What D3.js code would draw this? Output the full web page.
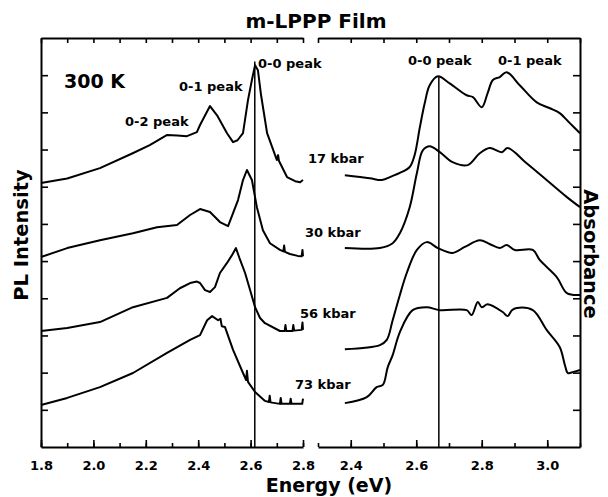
<!DOCTYPE html>
<html>
<head>
<meta charset="utf-8">
<script src="https://cdn.jsdelivr.net/npm/d3@7"></script>
<style>
  body { margin: 0; background: #fff; }
  text { font-family: "DejaVu Sans", "Liberation Sans", sans-serif; font-weight: bold; fill: #000; }
</style>
</head>
<body>
<div id="chart"></div>
<script>
// PL spectra, [energy eV, intensity (offset units)]
const pl17 = [[1.80,7.10],[1.90,7.22],[2.025,7.50],[2.15,7.90],[2.215,8.12],[2.28,8.39],[2.32,8.38],
  [2.357,8.36],[2.395,8.47],[2.407,8.66],[2.425,8.90],[2.445,9.17],[2.472,8.92],[2.51,8.44],[2.533,8.20],
  [2.55,8.25],[2.571,8.44],[2.59,9.33],[2.605,9.87],[2.617,10.27],[2.628,10.13],[2.64,9.46],[2.663,8.44],
  [2.70,7.72],[2.705,7.85],[2.708,7.70],[2.739,7.26],[2.77,7.15],[2.789,7.12],[2.80,7.18]];
const pl30 = [[1.80,5.11],[1.90,5.35],[2.025,5.56],[2.151,5.75],[2.243,5.91],[2.319,5.97],[2.369,6.24],
  [2.407,6.40],[2.445,6.32],[2.483,6.05],[2.514,5.94],[2.533,6.29],[2.552,6.64],[2.571,7.18],[2.586,7.45],
  [2.605,7.18],[2.624,6.45],[2.647,5.83],[2.674,5.48],[2.712,5.30],[2.725,5.26],[2.728,5.42],[2.731,5.25],
  [2.75,5.19],[2.78,5.14],[2.795,5.13],[2.798,5.30],[2.80,5.13]];
const pl56 = [[1.80,3.12],[1.90,3.20],[2.025,3.36],[2.151,3.76],[2.281,4.01],[2.33,4.27],[2.369,4.41],
  [2.395,4.45],[2.407,4.41],[2.426,4.22],[2.445,4.17],[2.464,4.30],[2.483,4.68],[2.51,4.95],[2.529,5.16],
  [2.544,5.35],[2.56,5.03],[2.579,4.68],[2.598,4.22],[2.617,3.76],[2.636,3.47],[2.655,3.33],[2.712,3.12],
  [2.73,3.12],[2.733,3.28],[2.736,3.12],[2.76,3.12],[2.763,3.28],[2.766,3.13],[2.795,3.15],[2.798,3.35],[2.80,3.15]];
const pl73 = [[1.80,1.13],[1.90,1.32],[2.025,1.61],[2.151,1.99],[2.281,2.53],[2.369,2.88],[2.407,3.01],
  [2.434,3.41],[2.453,3.52],[2.476,3.41],[2.485,3.45],[2.49,3.25],[2.502,3.23],[2.533,2.61],[2.571,1.99],
  [2.583,1.80],[2.586,2.05],[2.59,1.75],[2.617,1.48],[2.655,1.24],[2.67,1.21],[2.673,1.38],[2.676,1.20],
  [2.712,1.16],[2.715,1.32],[2.718,1.16],[2.75,1.16],[2.753,1.30],[2.756,1.16],[2.797,1.16],[2.80,1.30]];

// absorbance spectra
const abs17 = [[2.382,7.31],[2.458,7.23],[2.495,7.18],[2.525,7.28],[2.55,7.37],[2.58,7.53],[2.595,7.85],
  [2.611,8.60],[2.626,9.25],[2.641,9.73],[2.666,9.97],[2.702,9.78],[2.754,9.46],[2.773,9.41],[2.80,9.14],
  [2.818,9.52],[2.834,9.87],[2.855,9.95],[2.876,10.08],[2.916,9.73],[2.968,9.27],[3.008,9.11],[3.038,8.98],
  [3.069,8.71],[3.10,8.44]];
const abs30 = [[2.382,5.35],[2.489,5.35],[2.528,5.48],[2.55,5.75],[2.58,6.45],[2.602,7.37],[2.62,7.98],
  [2.641,8.09],[2.672,7.93],[2.711,7.66],[2.757,7.58],[2.794,7.90],[2.824,8.04],[2.861,7.93],[2.879,8.04],
  [2.937,7.63],[2.998,7.18],[3.06,6.72],[3.10,6.45]];
const abs56 = [[2.382,2.63],[2.489,2.74],[2.51,2.88],[2.528,3.41],[2.55,4.09],[2.571,4.68],[2.602,5.30],
  [2.632,5.51],[2.666,5.35],[2.711,5.22],[2.748,5.38],[2.794,5.56],[2.824,5.46],[2.855,5.35],[2.876,5.43],
  [2.901,5.30],[2.956,5.30],[2.977,5.03],[3.029,4.57],[3.06,4.14],[3.10,4.09]];
const abs73 = [[2.382,1.18],[2.449,1.34],[2.479,1.61],[2.498,1.67],[2.513,2.15],[2.528,2.47],[2.55,3.09],
  [2.589,3.68],[2.632,3.76],[2.672,3.68],[2.754,3.68],[2.769,3.55],[2.788,3.90],[2.80,3.76],[2.818,3.84],
  [2.864,3.63],[2.879,3.52],[2.892,3.68],[2.907,3.74],[2.956,3.68],[2.998,3.15],[3.038,2.69],[3.054,2.20],
  [3.063,1.99],[3.08,2.02],[3.10,2.07]];

const pressures = ["17 kbar", "30 kbar", "56 kbar", "73 kbar"];
const leftTicks = [1.8, 2.0, 2.2, 2.4, 2.6, 2.8];
const rightTicks = [2.4, 2.6, 2.8, 3.0];
const plPeakE = 2.616;
const absPeakE = 2.669;

const width = 608, height = 497;
const plotTop = 38, plotBottom = 447;

const svg = d3.select("#chart").append("svg")
  .attr("width", width)
  .attr("height", height);

const xL = d3.scaleLinear().domain([1.8, 2.8]).range([41, 303]);
const xR = d3.scaleLinear().domain([2.3, 3.1]).range([318, 580]);
const y = d3.scaleLinear().domain([0, 11]).range([plotBottom, plotTop]);

const minorL = d3.range(1.8, 2.81, 0.1).map(v => +v.toFixed(1));
const minorR = d3.range(2.3, 3.11, 0.1).map(v => +v.toFixed(1));

function styleAxis(g) {
  g.selectAll(".domain").attr("stroke", "#000").attr("stroke-width", 2);
  g.selectAll(".tick line").attr("stroke", "#000").attr("stroke-width", 1.6);
  g.selectAll(".tick text")
    .style("font-size", "13px")
    .style("font-family", "DejaVu Sans")
    .style("font-weight", "bold");
}

function drawPanel(x, ticks, minor) {
  // bottom: minor + labeled major ticks
  svg.append("g").attr("transform", `translate(0,${plotBottom})`)
    .call(d3.axisBottom(x).tickValues(minor).tickSize(-4).tickSizeOuter(0).tickFormat(""))
    .call(styleAxis);
  svg.append("g").attr("transform", `translate(0,${plotBottom})`)
    .call(d3.axisBottom(x).tickValues(ticks).tickSize(-7).tickSizeOuter(0).tickPadding(14).tickFormat(d3.format(".1f")))
    .call(styleAxis)
    .call(g => g.select(".domain").remove());
  // top
  svg.append("g").attr("transform", `translate(0,${plotTop})`)
    .call(d3.axisTop(x).tickValues(minor).tickSize(-5).tickSizeOuter(0).tickFormat(""))
    .call(styleAxis);
}

drawPanel(xL, leftTicks, minorL);
drawPanel(xR, rightTicks, minorR);

const yTicks = d3.range(1, 11);
svg.append("g").attr("transform", `translate(41,0)`)
  .call(d3.axisLeft(y).tickValues(yTicks).tickSize(-7).tickSizeOuter(0).tickFormat(""))
  .call(styleAxis);
svg.append("g").attr("transform", `translate(580,0)`)
  .call(d3.axisRight(y).tickValues(yTicks).tickSize(-7).tickSizeOuter(0).tickFormat(""))
  .call(styleAxis);

// curves
const lineL = d3.line().x(d => xL(d[0])).y(d => y(d[1]));
const lineR = d3.line().x(d => xR(d[0])).y(d => y(d[1])).curve(d3.curveCatmullRom.alpha(0.5));

[pl17, pl30, pl56, pl73].forEach(s => {
  svg.append("path").datum(s).attr("d", lineL)
    .attr("fill", "none").attr("stroke", "#000").attr("stroke-width", 2).attr("stroke-linejoin", "round");
});
[abs17, abs30, abs56, abs73].forEach(s => {
  svg.append("path").datum(s).attr("d", lineR)
    .attr("fill", "none").attr("stroke", "#000").attr("stroke-width", 2).attr("stroke-linejoin", "round");
});

// 0-0 peak markers
svg.append("line")
  .attr("x1", xL(plPeakE)).attr("x2", xL(plPeakE))
  .attr("y1", y(d3.max(pl17, d => d[1]) + 0.1)).attr("y2", y(0))
  .attr("stroke", "#000").attr("stroke-width", 1.5);
svg.append("line")
  .attr("x1", xR(absPeakE)).attr("x2", xR(absPeakE))
  .attr("y1", y(d3.max(abs17.filter(d => d[0] < 2.75), d => d[1]))).attr("y2", y(0))
  .attr("stroke", "#000").attr("stroke-width", 1.5);

// annotations
function label(txt, x, yy, size, anchor) {
  return svg.append("text").attr("x", x).attr("y", yy)
    .attr("text-anchor", anchor || "start")
    .style("font-size", size + "px")
    .text(txt);
}

label("m-LPPP Film", 316, 28, 20, "middle");
label("300 K", 64, 88, 19);
label("0-2 peak", 125, 126, 13);
label("0-1 peak", 179, 91, 13);
label("0-0 peak", 258, 68, 13);
label("0-0 peak", 408, 65, 13);
label("0-1 peak", 498, 65, 13);

const pressureX = [308, 305, 300, 295];
const pressureY = [7.63, 5.65, 3.47, 1.56];
pressures.forEach((p, i) => label(p, pressureX[i], y(pressureY[i]), 13));

label("Energy (eV)", 329, 492, 19, "middle");

svg.append("text")
  .attr("transform", "translate(28,235) rotate(-90)")
  .attr("text-anchor", "middle")
  .style("font-size", "19.5px")
  .text("PL Intensity");
svg.append("text")
  .attr("transform", "translate(584,254) rotate(90)")
  .attr("text-anchor", "middle")
  .style("font-size", "19.5px")
  .text("Absorbance");
</script>
</body>
</html>
